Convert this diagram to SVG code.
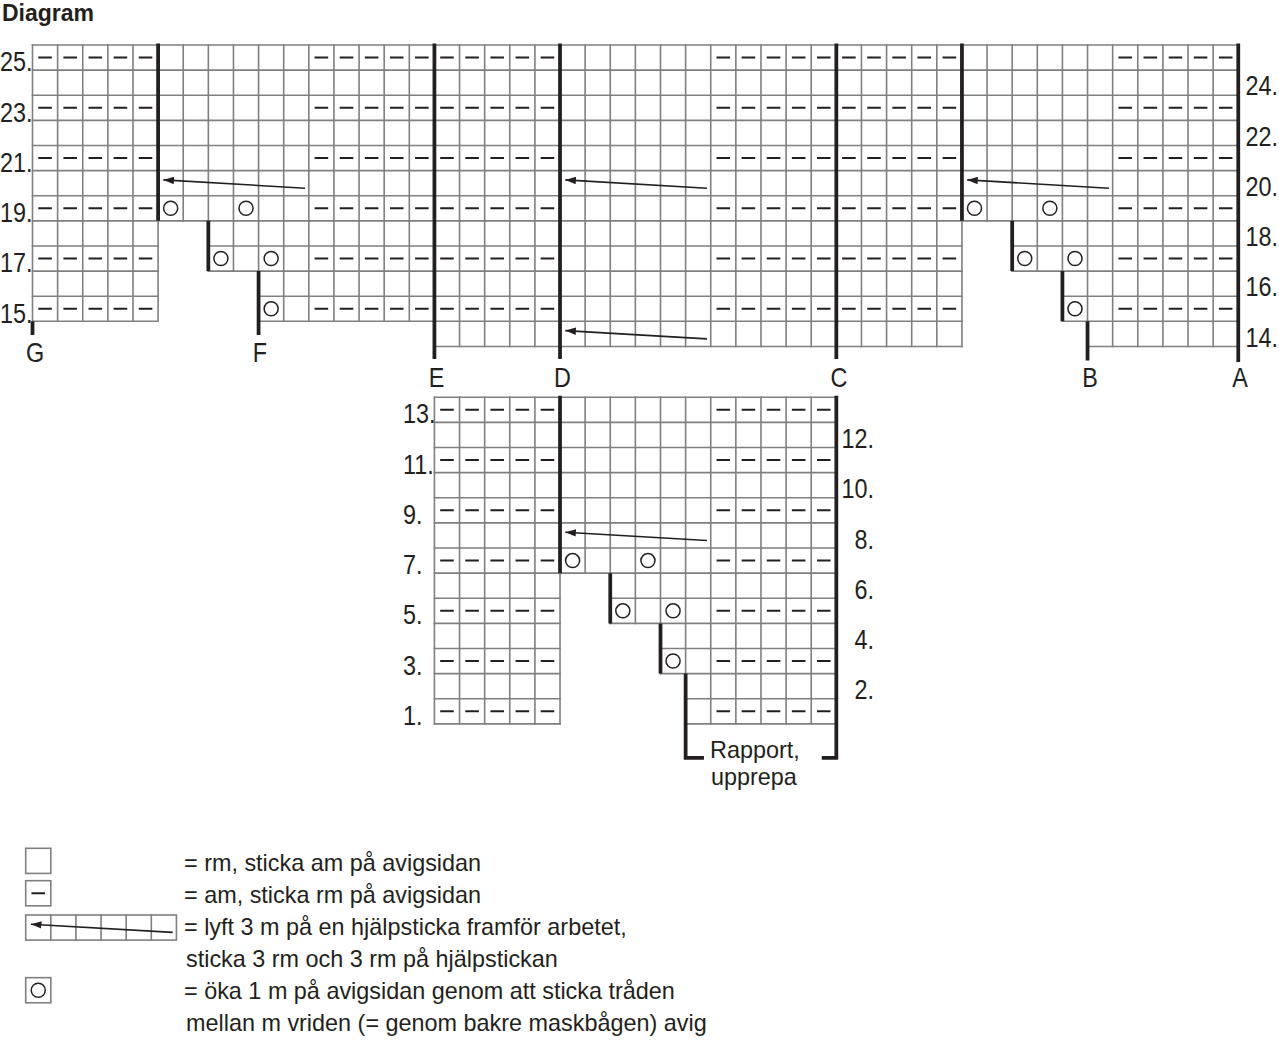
<svg xmlns="http://www.w3.org/2000/svg" width="1279" height="1040" viewBox="0 0 1279 1040">
<style>
.grid{fill:none;stroke:#808080;stroke-width:0.064;stroke-linecap:square}
.box{fill:#fff;stroke:#808080;stroke-width:0.064}
.thick{fill:none;stroke:#231f20;stroke-width:0.15;stroke-linejoin:miter}
.purl{fill:none;stroke:#231f20;stroke-width:0.08;stroke-dasharray:0.54 0.46}
.yo{fill:none;stroke:#231f20;stroke-width:0.06}
.cable{fill:none;stroke:#231f20;stroke-width:0.064;marker-end:url(#ah)}
.t{font-family:"Liberation Sans",Arial,Helvetica,sans-serif;font-size:23.4px;fill:#231f20}
.title{font-family:"Liberation Sans",Arial,Helvetica,sans-serif;font-size:23px;font-weight:bold;fill:#231f20}
.end{text-anchor:end}
.mid{text-anchor:middle}
</style>
<defs>
<marker id="ah" viewBox="0 0 10 7" refX="10" refY="3.5" markerWidth="0.42" markerHeight="0.3" orient="auto" markerUnits="userSpaceOnUse">
<path d="M0 0L10 3.5L0 7Z" fill="#231f20"/>
</marker>
</defs>
<rect width="1279" height="1040" fill="#fff"/>

<g id="title"><text class="title" x="2" y="21">Diagram</text></g>

<g id="chart-top" transform="translate(32.5 45) scale(25.12)">
<path class="grid" d="M0 0H48M0 1H48M0 2H48M0 3H48M0 4H48M0 5H48M0 6H48M0 7H48M0 8H5M7 8H37M39 8H48M0 9H5M7 9H37M39 9H48M0 10H5M9 10H37M41 10H48M0 11H5M9 11H37M41 11H48M16 12H37M42 12H48"/>
<path class="grid" d="M0 0V11M1 0V11M2 0V11M3 0V11M4 0V11M5 0V11M6 0V7M7 0V9M8 0V9M9 0V11M10 0V11M11 0V11M12 0V11M13 0V11M14 0V11M15 0V11M16 0V12M17 0V12M18 0V12M19 0V12M20 0V12M21 0V12M22 0V12M23 0V12M24 0V12M25 0V12M26 0V12M27 0V12M28 0V12M29 0V12M30 0V12M31 0V12M32 0V12M33 0V12M34 0V12M35 0V12M36 0V12M37 0V12M38 0V7M39 0V9M40 0V9M41 0V11M42 0V12M43 0V12M44 0V12M45 0V12M46 0V12M47 0V12M48 0V12"/>
<path class="purl" d="M0.23 0.5H5.23M11.23 0.5H21.23M27.23 0.5H37.23M43.23 0.5H48.23M0.23 2.5H5.23M11.23 2.5H21.23M27.23 2.5H37.23M43.23 2.5H48.23M0.23 4.5H5.23M11.23 4.5H21.23M27.23 4.5H37.23M43.23 4.5H48.23M0.23 6.5H5.23M11.23 6.5H21.23M27.23 6.5H37.23M43.23 6.5H48.23M0.23 8.5H5.23M11.23 8.5H21.23M27.23 8.5H37.23M43.23 8.5H48.23M0.23 10.5H5.23M11.23 10.5H21.23M27.23 10.5H37.23M43.23 10.5H48.23"/>
<g class="yo">
<circle cx="5.5" cy="6.5" r="0.28"/><circle cx="8.5" cy="6.5" r="0.28"/><circle cx="37.5" cy="6.5" r="0.28"/><circle cx="40.5" cy="6.5" r="0.28"/>
<circle cx="7.5" cy="8.5" r="0.28"/><circle cx="9.5" cy="8.5" r="0.28"/><circle cx="39.5" cy="8.5" r="0.28"/><circle cx="41.5" cy="8.5" r="0.28"/>
<circle cx="9.5" cy="10.5" r="0.28"/><circle cx="41.5" cy="10.5" r="0.28"/>
</g>
<path class="thick" d="M5 -0.06V7M7 7V9M9 9V11.54M0 11V11.54M16 -0.06V12.5M21 -0.06V12.5M32 -0.06V12.5M37 -0.06V7M39 7V9M41 9V11M42 11V12.56M48 -0.06V12.62"/>
</g>

<g id="chart-bottom" transform="translate(32.5 397.3) scale(25.12)">
<path class="grid" d="M16 0H32M16 1H32M16 2H32M16 3H32M16 4H32M16 5H32M16 6H32M16 7H32M16 8H21M23 8H32M16 9H21M23 9H32M16 10H21M25 10H32M16 11H21M25 11H32M16 12H21M26 12H32M16 13H21M26 13H32"/>
<path class="grid" d="M16 0V13M17 0V13M18 0V13M19 0V13M20 0V13M21 0V13M22 0V7M23 0V9M24 0V9M25 0V11M26 0V13M27 0V13M28 0V13M29 0V13M30 0V13M31 0V13M32 0V13"/>
<path class="purl" d="M16.23 0.5H21.23M27.23 0.5H32.23M16.23 2.5H21.23M27.23 2.5H32.23M16.23 4.5H21.23M27.23 4.5H32.23M16.23 6.5H21.23M27.23 6.5H32.23M16.23 8.5H21.23M27.23 8.5H32.23M16.23 10.5H21.23M27.23 10.5H32.23M16.23 12.5H21.23M27.23 12.5H32.23"/>
<g class="yo">
<circle cx="21.5" cy="6.5" r="0.28"/><circle cx="24.5" cy="6.5" r="0.28"/>
<circle cx="23.5" cy="8.5" r="0.28"/><circle cx="25.5" cy="8.5" r="0.28"/>
<circle cx="25.5" cy="10.5" r="0.28"/>
</g>
<path class="thick" d="M21 -0.06V7M23 7V9M25 9V11M26 11V14.35H26.73M31.42 14.35H32V-0.06"/>
</g>

<g id="cables">
<g transform="translate(32.5 45) scale(25.12)">
<path class="cable" d="M10.85 5.7L5.21 5.37"/>
<path class="cable" d="M26.85 5.7L21.21 5.37"/>
<path class="cable" d="M42.85 5.7L37.21 5.37"/>
<path class="cable" d="M26.85 11.7L21.21 11.37"/>
</g>
<g transform="translate(32.5 397.3) scale(25.12)">
<path class="cable" d="M26.85 5.7L21.21 5.37"/>
</g>
</g>

<g id="row-labels" transform="scale(1 1.15)">
<text class="t" x="0" y="62.09">25.</text>
<text class="t" x="0" y="105.83">23.</text>
<text class="t" x="0" y="149.48">21.</text>
<text class="t" x="0" y="193.13">19.</text>
<text class="t" x="0" y="236.87">17.</text>
<text class="t" x="0" y="280.52">15.</text>
<text class="t end" x="1278" y="83.04">24.</text>
<text class="t end" x="1278" y="126.7">22.</text>
<text class="t end" x="1278" y="170.43">20.</text>
<text class="t end" x="1278" y="214.09">18.</text>
<text class="t end" x="1278" y="257.83">16.</text>
<text class="t end" x="1278" y="301.48">14.</text>
<text class="t" x="403" y="368.17">13.</text>
<text class="t" x="403" y="411.83">11.</text>
<text class="t" x="403" y="455.57">9.</text>
<text class="t" x="403" y="499.22">7.</text>
<text class="t" x="403" y="542.87">5.</text>
<text class="t" x="403" y="586.61">3.</text>
<text class="t" x="403" y="630.26">1.</text>
<text class="t end" x="874" y="389.83">12.</text>
<text class="t end" x="874" y="433.48">10.</text>
<text class="t end" x="874" y="477.13">8.</text>
<text class="t end" x="874" y="520.87">6.</text>
<text class="t end" x="874" y="564.52">4.</text>
<text class="t end" x="874" y="608.17">2.</text>
</g>

<g id="section-labels" transform="scale(1 1.15)">
<text class="t mid" x="35" y="314.78">G</text>
<text class="t mid" x="260" y="314.78">F</text>
<text class="t mid" x="436.5" y="336.52">E</text>
<text class="t mid" x="562.5" y="336.52">D</text>
<text class="t mid" x="839" y="336.52">C</text>
<text class="t mid" x="1090" y="336.52">B</text>
<text class="t mid" x="1240" y="336.52">A</text>
</g>

<g id="repeat-label">
<text class="t" x="710" y="758">Rapport,</text>
<text class="t" x="711" y="785">upprepa</text>
</g>

<g id="legend">
<g id="legend-knit">
<g transform="translate(25.7 848.3) scale(25.12)"><rect class="box" x="0" y="0" width="1" height="1"/></g>
<text class="t" x="184" y="870.5">= rm, sticka am på avigsidan</text>
</g>
<g id="legend-purl">
<g transform="translate(25.7 848.3) scale(25.12)"><rect class="box" x="0" y="1.29" width="1" height="1"/><path d="M0.23 1.79H0.77" fill="none" stroke="#231f20" stroke-width="0.08"/></g>
<text class="t" x="184" y="902.5">= am, sticka rm på avigsidan</text>
</g>
<g id="legend-cable">
<g transform="translate(25.7 848.3) scale(25.12)"><rect class="box" x="0" y="2.655" width="6" height="1"/><path class="grid" d="M1 2.655v1M2 2.655v1M3 2.655v1M4 2.655v1M5 2.655v1"/><path class="cable" d="M5.85 3.345L0.21 3.025"/></g>
<text class="t" x="184" y="934.5">= lyft 3 m på en hjälpsticka framför arbetet,</text>
<text class="t" x="186" y="966.5">sticka 3 rm och 3 rm på hjälpstickan</text>
</g>
<g id="legend-increase">
<g transform="translate(25.7 848.3) scale(25.12)"><rect class="box" x="0" y="5.15" width="1" height="1"/><circle class="yo" cx="0.5" cy="5.65" r="0.28"/></g>
<text class="t" x="184" y="998.5">= öka 1 m på avigsidan genom att sticka tråden</text>
<text class="t" x="186" y="1030.5">mellan m vriden (= genom bakre maskbågen) avig</text>
</g>
</g>
</svg>
